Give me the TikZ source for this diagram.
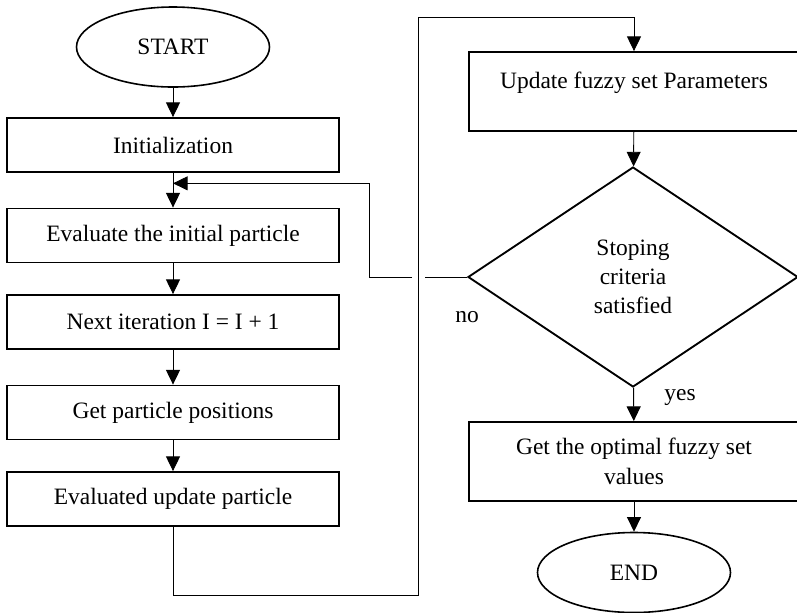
\documentclass[tikz,border=0pt]{standalone}
\usepackage{fontspec}
\setmainfont{Liberation Serif}
\usetikzlibrary{shapes.geometric, calc, positioning, arrows.meta}

\begin{document}
\begin{tikzpicture}[x=0.75pt, y=-0.75pt,
    font=\fontsize{17.6pt}{22pt}\selectfont,
    box/.style={draw, line width=1.4pt, rectangle, minimum width=249pt, minimum height=40.5pt, inner sep=2pt},
    wbox/.style={draw, line width=1.4pt, rectangle, minimum width=247.5pt, minimum height=59.25pt, align=center, inner sep=2pt},
    term/.style={draw, line width=1.2pt, ellipse, minimum width=144.75pt, minimum height=60pt, inner sep=0pt},
    decision/.style={draw, line width=1.4pt, diamond, minimum width=247.5pt, minimum height=165pt, align=center, inner sep=0pt},
    line/.style={line width=0.7pt},
    arr/.style={line width=0.7pt, -{Triangle[length=11pt, width=10.5pt]}}
]

    % --- Page frame ---
    \useasboundingbox (0,0) rectangle (797,612);
    \clip (0,0) rectangle (797,612);

    % --- Left column ---
    \node[term] (start) at (173,47) {START};
    \node[box] (init) at (173,145) {Initialization};
    \node[box] (eval) at (173,235.5) {Evaluate the initial particle};
    \node[box] (next) at (173,322) {Next iteration I = I + 1};
    \node[box] (pos) at (173,412.5) {Get particle positions};
    \node[box] (evup) at (173,499) {Evaluated update particle};

    % --- Right column ---
    \node[wbox] (upd) at (634,91.5) {\raisebox{6.4pt}[\height][\depth]{Update fuzzy set Parameters}};
    \node[decision] (stop) at (633,277) {Stoping\\criteria\\satisfied};
    \node[wbox] (opt) at (634,461.5) {Get the optimal fuzzy set\\values};
    \node[term] (end) at (634,572.5) {END};

    % --- Labels ---
    \node (no) at (467,317) {no};
    \node (yes) at (680,397) {yes};

    % --- Helper points ---
    \coordinate (fb) at ($(init.south)!0.3!(eval.north)$);
    \coordinate (low) at (418,595);
    \coordinate (high) at (418,17);
    \coordinate (hopR) at (425,277);
    \coordinate (hopL) at (412,277);
    \coordinate (noturn) at (369,277);

    % --- Main flow ---
    \draw[arr] (start) -- (init);
    \draw[arr] (init) -- (eval);
    \draw[arr] (eval) -- (next);
    \draw[arr] (next) -- (pos);
    \draw[arr] (pos) -- (evup);
    \draw[arr] (evup.south) -- (evup.south |- low) -- (low) -- (high) -| (upd.north);
    \draw[arr] (upd) -- (stop);
    \draw[arr] (stop) -- (opt);
    \draw[arr] (opt) -- (end);

    % --- No branch (hops over the loop line) ---
    \draw[line] (stop.west) -- (hopR);
    \draw[arr] (hopL) -- (noturn) |- (fb);

\end{tikzpicture}
\end{document}
